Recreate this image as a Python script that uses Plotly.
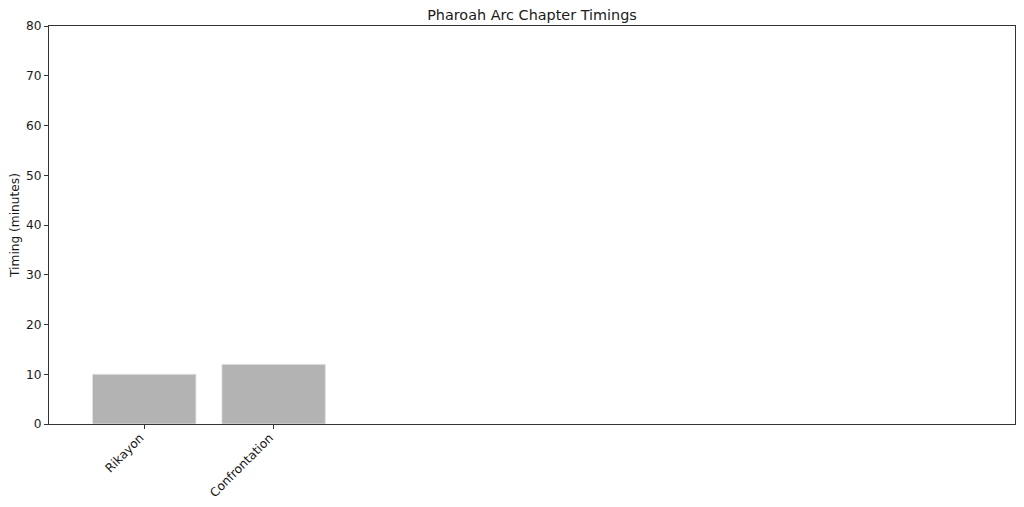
import plotly.graph_objects as go

# chapter timings
chapters = ["Rikayon", "Confrontation"]
timings = [10, 12]
y_ticks = [0, 10, 20, 30, 40, 50, 60, 70, 80]

AXIS_COL = "#333333"
FONT = "DejaVu Sans"

# page body has an 8px margin, so the figure is shrunk to fit the window
W, H = 1008, 491

fig = go.Figure()
fig.add_trace(go.Bar(
    x=chapters,
    y=timings,
    width=0.8,
    marker=dict(color="#b3b3b3", line=dict(color="#e6e6e6", width=0.8)),
))

fig.update_layout(
    width=W, height=H,
    margin=dict(l=41, r=1, t=18, b=75, autoexpand=False),
    plot_bgcolor="white", paper_bgcolor="white",
    font=dict(family=FONT, size=12.2, color="#1a1a1a"),
    showlegend=False,
    title=dict(text="Pharoah Arc Chapter Timings", xref="paper", x=0.5, xanchor="center",
               y=1 - 6.7 / H, yanchor="middle", font=dict(size=14.4, color="#1a1a1a")),
)

fig.update_xaxes(
    type="category", range=[-0.736, 6.73],
    showline=True, linecolor=AXIS_COL, linewidth=1, mirror=True,
    ticks="outside", ticklen=4, tickcolor=AXIS_COL, tickangle=-45,
    ticklabelshift=-4, ticklabelstandoff=-3,
    showgrid=False, zeroline=False,
)
fig.update_yaxes(
    range=[0, 80], tickvals=y_ticks,
    showline=True, linecolor=AXIS_COL, linewidth=1, mirror=True,
    ticks="outside", ticklen=4, tickcolor=AXIS_COL,
    showgrid=False, zeroline=False,
    title=dict(text="Timing (minutes)", font=dict(size=12.2), standoff=5),
)

fig.write_html("out.html")
